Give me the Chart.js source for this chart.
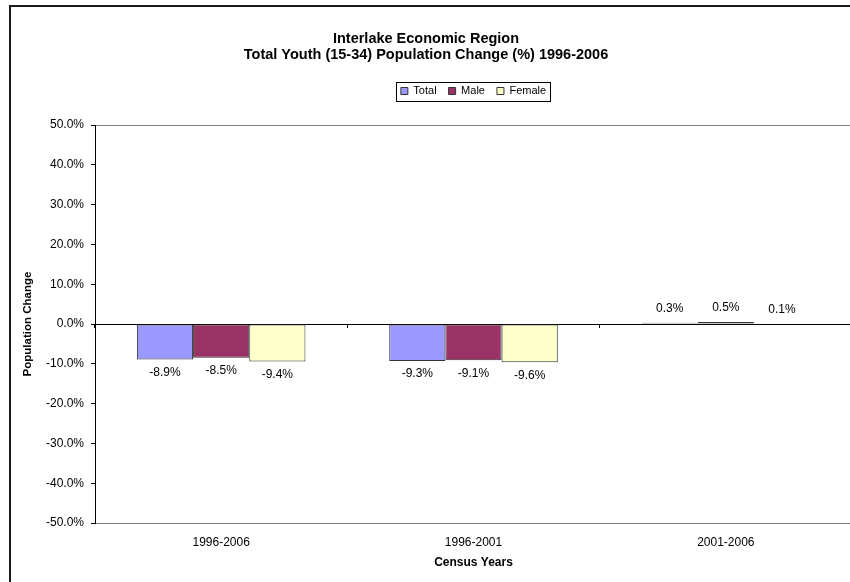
<!DOCTYPE html>
<html>
<head>
<meta charset="utf-8">
<script src="https://cdn.jsdelivr.net/npm/chart.js@4.4.0/dist/chart.umd.min.js"></script>
<style>
  html, body { margin: 0; padding: 0; background: #fff; overflow: hidden; }
  #wrap { width: 850px; height: 582px; overflow: hidden; position: relative; }
  #chart { position: absolute; left: 0; top: 0; }
</style>
</head>
<body>
<div id="wrap"><canvas id="chart" width="852" height="582"></canvas></div>
<script>
// Census periods and % change of youth population (15-34)
const categories = ['1996-2006', '1996-2001', '2001-2006'];
const totalValues = [-8.9, -9.3, 0.3];
const maleValues = [-8.5, -9.1, 0.5];
const femaleValues = [-9.4, -9.6, 0.1];

// Y axis range (percent)
const yMin = -50;
const yMax = 50;
const yStep = 10;

const fontFamily = 'Arial, "Liberation Sans", sans-serif';
Chart.defaults.font.family = fontFamily;
Chart.defaults.color = '#000';

const fmtPct = (v) => `${Number(v).toFixed(1)}%`;

// White background + outer chart frame (right/bottom sides fall outside the picture)
const chartFrame = {
  id: 'chartFrame',
  beforeDraw: (chart) => {
    const { ctx, width, height } = chart;
    ctx.save();
    ctx.fillStyle = '#fff';
    ctx.fillRect(0, 0, width, height);
    ctx.strokeStyle = '#1a1a1a';
    ctx.lineWidth = 2;
    ctx.beginPath();
    ctx.moveTo(10, height + 10);
    ctx.lineTo(10, 6);
    ctx.lineTo(width + 10, 6);
    ctx.stroke();
    ctx.restore();
  },
};

// Box around the legend items
const legendFrame = {
  id: 'legendFrame',
  afterDraw: (chart) => {
    const boxes = chart.legend?.legendHitBoxes;
    if (!boxes || !boxes.length) return;
    const left = Math.min(...boxes.map((b) => b.left)) - 5;
    const right = Math.max(...boxes.map((b) => b.left + b.width)) + 4;
    const top = boxes[0].top - 4;
    const bottom = boxes[0].top + boxes[0].height + 4;
    const { ctx } = chart;
    ctx.save();
    ctx.strokeStyle = '#000';
    ctx.lineWidth = 1;
    ctx.strokeRect(Math.round(left) + 0.5, Math.round(top) + 0.5, Math.round(right - left), Math.round(bottom - top));
    ctx.restore();
  },
};

// Value labels above / below each bar
const barValueLabels = {
  id: 'barValueLabels',
  afterDatasetsDraw: (chart) => {
    const { ctx } = chart;
    ctx.save();
    ctx.font = `12px ${fontFamily}`;
    ctx.fillStyle = '#000';
    ctx.textAlign = 'center';
    ctx.textBaseline = 'middle';
    chart.data.datasets.forEach((ds, i) => {
      chart.getDatasetMeta(i).data.forEach((bar, j) => {
        const v = ds.data[j];
        const y = v < 0 ? bar.y + 13 : bar.y - 14;
        ctx.fillText(fmtPct(v), bar.x, y);
      });
    });
    ctx.restore();
  },
};

const barStyle = {
  borderColor: '#333333',
  borderWidth: 1,
  borderSkipped: false,
  categoryPercentage: 0.668,
  barPercentage: 1.0,
  xAxisID: 'x',
  yAxisID: 'y',
};

new Chart(document.getElementById('chart'), {
  type: 'bar',
  data: {
    labels: categories,
    datasets: [
      { label: 'Total', data: totalValues, backgroundColor: '#9999FF', ...barStyle },
      { label: 'Male', data: maleValues, backgroundColor: '#993366', ...barStyle },
      { label: 'Female', data: femaleValues, backgroundColor: '#FFFFCC', ...barStyle },
    ],
  },
  options: {
    responsive: false,
    animation: false,
    devicePixelRatio: 1,
    layout: { padding: 0 },
    plugins: {
      title: {
        display: true,
        text: ['Interlake Economic Region', 'Total Youth (15-34) Population Change (%) 1996-2006'],
        color: '#000',
        font: { size: 14.5, weight: 'bold', lineHeight: '16px' },
        padding: { top: 31, bottom: 10.5 },
      },
      legend: {
        display: true,
        position: 'top',
        fullSize: false,
        labels: {
          boxWidth: 7,
          boxHeight: 7,
          padding: 12,
          color: '#000',
          font: { size: 11 },
        },
      },
      // empty spacer between legend and plot area
      subtitle: {
        display: true,
        text: '',
        weight: 100,
        font: { size: 1 },
        padding: { top: 17.3, bottom: 0 },
      },
      tooltip: { enabled: false },
    },
    scales: {
      x: {
        type: 'category',
        position: 'bottom',
        offset: true,
        grid: { display: false, drawTicks: false },
        border: { display: true, color: '#808080', width: 1 },
        ticks: { padding: 12.4, font: { size: 12 }, color: '#000', maxRotation: 0 },
        title: {
          display: true,
          text: 'Census Years',
          color: '#000',
          font: { size: 12, weight: 'bold' },
          padding: { top: 0, bottom: 12 },
        },
        afterFit: (scale) => { scale.height = 59; },
      },
      // category tick marks on the zero line
      x2: {
        type: 'category',
        labels: categories,
        position: { y: 0 },
        offset: true,
        grid: { offset: true, drawOnChartArea: false, drawTicks: true, tickLength: 4, color: '#000' },
        border: { display: false },
        ticks: { display: false },
      },
      y: {
        min: yMin,
        max: yMax,
        position: 'left',
        grid: {
          drawOnChartArea: true,
          drawTicks: true,
          tickLength: 4,
          tickColor: '#000',
          color: (ctx) => {
            if (ctx.tick.value === 0) return '#000';
            if (ctx.tick.value === yMax) return '#808080';
            return 'rgba(0,0,0,0)';
          },
        },
        border: { display: true, color: '#000', width: 1 },
        ticks: {
          stepSize: yStep,
          padding: 7,
          font: { size: 12 },
          color: '#000',
          callback: (v) => fmtPct(v),
        },
        title: {
          display: true,
          text: 'Population Change',
          color: '#000',
          font: { size: 11.5, weight: 'bold' },
          padding: { top: 21, bottom: 0 },
        },
        afterFit: (scale) => { scale.width = 95; },
      },
    },
  },
  plugins: [chartFrame, legendFrame, barValueLabels],
});
</script>
</body>
</html>
